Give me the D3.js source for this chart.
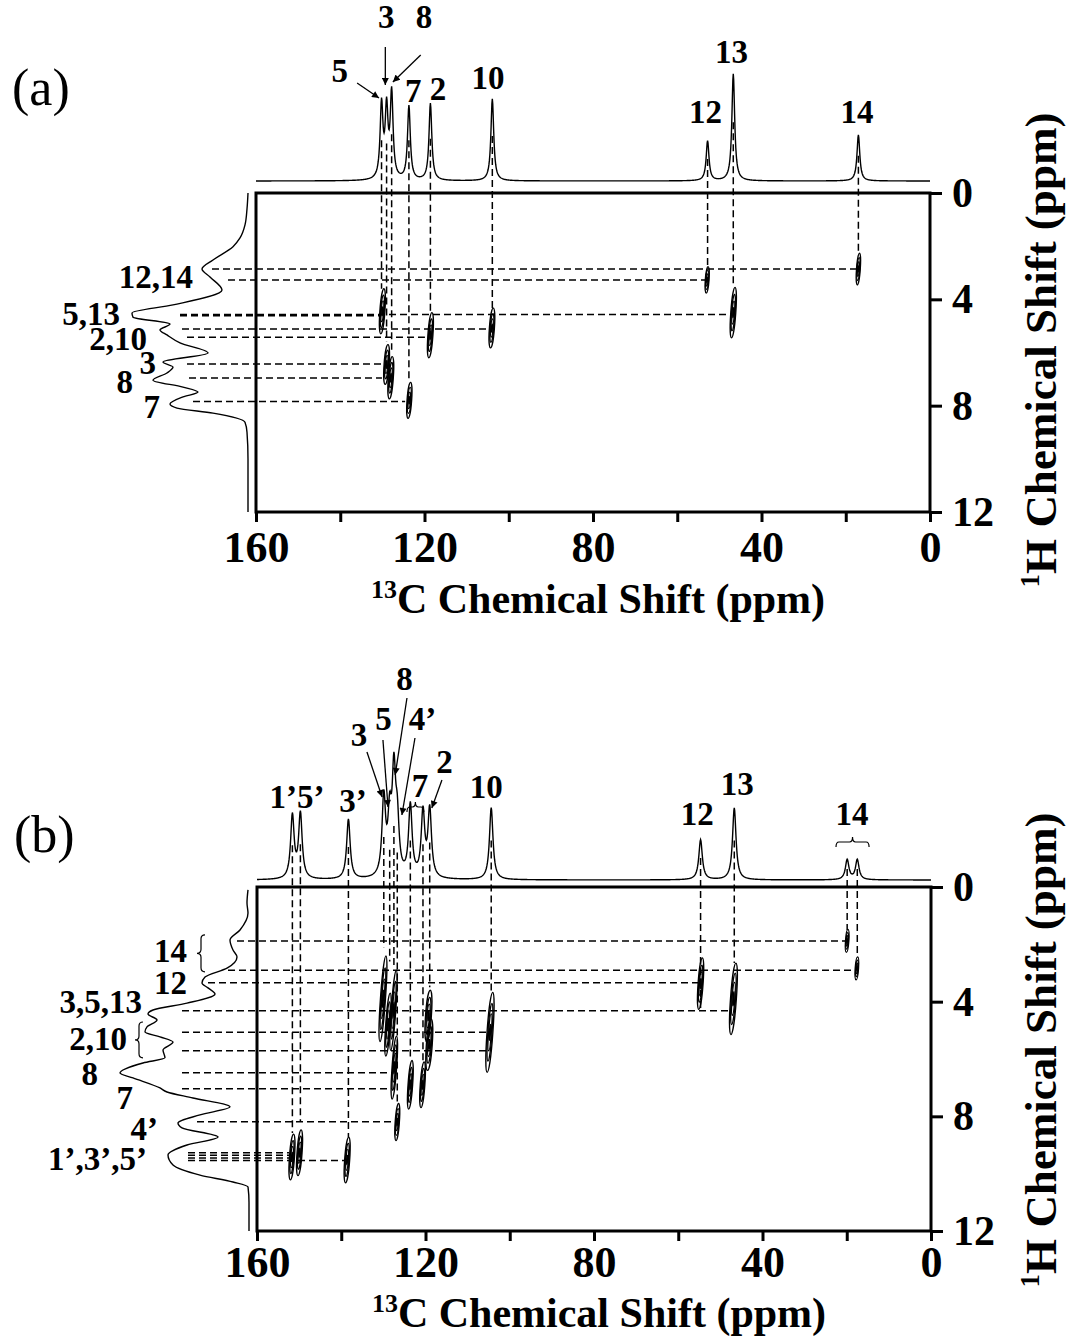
<!DOCTYPE html>
<html>
<head>
<meta charset="utf-8">
<script src="https://cdn.jsdelivr.net/npm/d3@7"></script>
<style>
body { margin: 0; background: #fff; }
text { font-family: "Liberation Serif", "Times New Roman", serif; font-weight: bold; fill: #000; }
</style>
</head>
<body>
<div id="chart"></div>
<script>
// axis ticks (ppm)
const cTicks = [160, 140, 120, 100, 80, 60, 40, 20, 0]
const cTickLabels = [160, 120, 80, 40, 0]
const hTicks = [0, 4, 8, 12]

// ---------- panel (a) ----------
// 13C peaks: [ppm, height, 1H end of the dashed guide]
const aPeaks = [[130.2, 74, 3.6], [129.0, 68, 5.6], [127.8, 85, 5.9], [123.7, 74, 7.1], [118.6, 77, 4.5],
  [103.9, 82, 4.33], [52.8, 40, 2.8], [46.7, 107, 3.55], [17.0, 46, 2.25]]
// cross peaks: [13C, 1H, half width 13C, half height 1H]
const aCross = [[17.0, 2.86, 0.45, 0.6], [52.9, 3.27, 0.45, 0.5], [46.7, 4.5, 0.6, 0.95], [104.0, 5.08, 0.6, 0.75],
  [118.6, 5.35, 0.6, 0.85], [130.0, 4.45, 0.6, 0.85], [129.0, 6.45, 0.6, 0.75], [128.0, 6.95, 0.6, 0.8], [123.6, 7.8, 0.55, 0.68]]
// 1H projection trace: [1H ppm, intensity]
const aProj = [[0, 0], [0.6, 1], [1.2, 3], [1.69, 8], [2.02, 15], [2.52, 35], [2.86, 46], [3.16, 38], [3.65, 26],
  [4.21, 75], [4.51, 116], [4.67, 115], [4.93, 78], [5.15, 88], [5.34, 81], [5.64, 68], [6.02, 40], [6.36, 85],
  [6.55, 75], [6.77, 81], [7.04, 95], [7.30, 65], [7.49, 50], [7.67, 65], [7.94, 78], [8.09, 71], [8.28, 35],
  [8.62, 3], [9.0, 1], [10, 0], [11, 0], [12, 0]]
// horizontal guides: [1H, start intensity, 13C end]
const aHLines = [[2.86, 36, 17.5], [3.27, 20, 53.3], [4.57, 68, 47.2], [4.62, 68, 130.6], [5.12, 66, 104.9],
  [5.43, 61, 119.9], [6.43, 61, 130.1], [6.96, 59, 130.1], [7.84, 55, 124.6]]
const aTopLabels = [["5", 140.1, 99], ["3", 129.1, 153], ["8", 120.1, 153], ["7", 122.7, 79], ["2", 116.8, 81],
  ["10", 104.9, 92], ["12", 53.3, 58], ["13", 47.1, 118], ["14", 17.3, 58]]
const aArrows = [[129.3, 134, 129.3, 96], [120.9, 126, 127.5, 99], [136.0, 98, 130.8, 83]]
const aSideLabels = [["12,14", 55, 3.57], ["5,13", 128, 4.97], ["2,10", 101, 5.91], ["3", 92, 6.8], ["8", 115, 7.52], ["7", 88, 8.46]]

// ---------- panel (b) ----------
const bPeaks = [[151.6, 63, 8.58], [149.7, 65, 8.19], [138.3, 60, 8.72], [129.9, 78, 2.1], [128.5, 55, 2.6],
  [127.5, 98, 2.8], [126.7, 50, 7.5], [123.6, 72, 6.0], [120.6, 65, 6.05], [119.0, 68, 3.5], [104.4, 72, 3.7],
  [54.7, 40, 4.32], [46.7, 72, 2.65], [19.9, 20, 1.5], [17.5, 20, 2.44]]
const bCross = [[151.7, 9.42, 0.6, 0.8], [149.9, 9.27, 0.6, 0.8], [138.6, 9.52, 0.6, 0.8],
  [130.1, 3.9, 0.6, 1.5], [128.9, 4.8, 0.55, 1.1], [127.6, 4.3, 0.55, 1.4], [127.4, 6.3, 0.55, 1.1],
  [126.7, 8.2, 0.5, 0.65], [123.6, 6.9, 0.55, 0.85], [120.7, 6.9, 0.55, 0.8],
  [119.3, 4.5, 0.7, 0.9], [119.1, 5.5, 0.7, 0.9], [104.7, 5.07, 0.7, 1.4],
  [54.7, 3.37, 0.6, 0.9], [46.9, 3.9, 0.7, 1.25], [19.9, 1.88, 0.4, 0.4], [17.6, 2.84, 0.4, 0.4]]
const bProj = [[0.1, 1], [0.56, 2], [0.91, 1], [1.5, 9], [1.85, 19], [2.2, 16], [2.44, 12], [2.83, 22], [3.14, 44],
  [3.35, 47], [3.52, 41], [3.73, 34], [4.05, 62], [4.29, 96], [4.43, 101], [4.64, 92], [4.88, 102], [5.06, 104],
  [5.23, 89], [5.41, 76], [5.69, 86], [5.96, 84], [6.14, 106], [6.49, 129], [6.66, 116], [7.01, 89], [7.15, 82],
  [7.36, 56], [7.67, 19], [7.95, 49], [8.23, 71], [8.4, 67], [8.72, 31], [9.0, 62], [9.35, 81], [9.7, 76],
  [10.05, 49], [10.29, 16], [10.46, 1], [11, 0], [12, 0]]
const bHLines = [[1.88, 12, 20.3], [2.90, 21, 18.0], [3.34, 41, 55.3], [4.32, 67, 47.3], [5.07, 67, 105.3],
  [5.71, 67, 105.3], [6.48, 67, 128.0], [7.04, 67, 128.0], [8.19, 52, 127.2], [9.27, 61, 152.4],
  [9.36, 61, 152.4], [9.45, 61, 152.4], [9.54, 61, 139.1]]
const bTopLabels = [["1’5’", 150.5, 72], ["3’", 137.2, 68], ["3", 135.8, 134], ["5", 130.0, 150], ["8", 125.0, 190],
  ["4’", 120.7, 150], ["7", 121.3, 83], ["2", 115.5, 107], ["10", 105.6, 82], ["12", 55.5, 55], ["13", 46.0, 85], ["14", 18.75, 55]]
const bArrows = [[133.9, 128, 130.3, 83], [130.1, 140, 128.9, 73], [124.4, 182, 127.2, 105], [122.5, 142, 125.6, 65], [116.1, 100, 118.5, 72]]
const bSideLabels = [["14", 62, 2.62], ["12", 62, 3.72], ["3,5,13", 107, 4.39], ["2,10", 122, 5.69], ["8", 151, 6.91],
  ["7", 116, 7.74], ["4’", 91, 8.82], ["1’,3’,5’", 102, 9.87]]
const bTopBraces = [[22.55, 14.7, 38], [124.4, 120.4, 73]]
const bSideBraces = [[48, 1.67, 2.96], [110, 4.71, 5.96]]

const svg = d3.select("#chart").append("svg")
  .attr("width", 1067)
  .attr("height", 1342)

svg.append("defs").append("marker")
  .attr("id", "arrow")
  .attr("viewBox", "0 0 10 10")
  .attr("refX", 10).attr("refY", 5)
  .attr("markerWidth", 9).attr("markerHeight", 7)
  .attr("markerUnits", "userSpaceOnUse")
  .attr("orient", "auto")
  .append("path").attr("d", "M0,0 L10,5 L0,10 z").attr("fill", "#000")

function panel(p) {
  const g = svg.append("g")

  const x = d3.scaleLinear().domain([160, 0]).range([p.left, p.right])
  const y = d3.scaleLinear().domain([0, 12]).range([p.top, p.bottom])
  const sI = d3.scaleLinear().domain([0, 100]).range([p.specBase, p.specBase - 100])
  const pI = d3.scaleLinear().domain([0, 100]).range([p.projBase, p.projBase - 100])

  // top 13C trace, lorentzian lines at the picked peaks
  const hw = p.fwhm / 2
  const spec = d3.range(160, -0.001, -0.1)
    .map(c => [c, d3.sum(p.peaks, pk => pk[1] / (1 + ((c - pk[0]) / hw) ** 2))])
  g.append("path").datum(spec)
    .attr("fill", "none").attr("stroke", "#000").attr("stroke-width", 1.4)
    .attr("d", d3.line().x(d => x(d[0])).y(d => sI(d[1])))

  // left 1H projection
  g.append("path").datum(p.proj)
    .attr("fill", "none").attr("stroke", "#000").attr("stroke-width", 1.4)
    .attr("d", d3.line().x(d => pI(d[1])).y(d => y(d[0])).curve(d3.curveMonotoneY))

  // dashed guides
  const dash = g.append("g").attr("stroke", "#000").attr("stroke-width", 1.5).attr("stroke-dasharray", "7,4")
  dash.selectAll(".v").data(p.peaks).join("line")
    .attr("x1", d => x(d[0])).attr("x2", d => x(d[0]))
    .attr("y1", d => sI(d[1] * 0.55)).attr("y2", d => y(d[2]))
  dash.selectAll(".h").data(p.hLines).join("line")
    .attr("x1", d => pI(d[1])).attr("x2", d => x(d[2]))
    .attr("y1", d => y(d[0])).attr("y2", d => y(d[0]))

  // cross peak contours
  const levels = [1, 0.72, 0.46, 0.2]
  p.cross.forEach(d => {
    const cx = x(d[0]), cy = y(d[1])
    const rx = Math.abs(x(d[0] + d[2]) - cx), ry = y(d[1] + d[3]) - cy
    g.selectAll(null).data(levels).join("ellipse")
      .attr("cx", cx).attr("cy", cy)
      .attr("rx", k => rx * k).attr("ry", k => ry * k)
      .attr("transform", `rotate(4,${cx},${cy})`)
      .attr("fill", "none").attr("stroke", "#000").attr("stroke-width", 1.3)
  })

  // frame
  g.append("rect")
    .attr("x", p.left).attr("y", p.top)
    .attr("width", p.right - p.left).attr("height", p.bottom - p.top)
    .attr("fill", "none").attr("stroke", "#000").attr("stroke-width", 3)

  g.append("g")
    .attr("transform", `translate(0,${p.bottom})`)
    .call(d3.axisBottom(x).tickValues(cTicks).tickSize(10).tickPadding(p.tickPad)
      .tickFormat(d => cTickLabels.includes(d) ? d : ""))
    .attr("font-size", 44).attr("font-family", null)
    .call(a => a.select(".domain").remove())
    .call(a => a.selectAll("line").attr("stroke-width", 3))

  g.append("g")
    .attr("transform", `translate(${p.right},0)`)
    .call(d3.axisRight(y).tickValues(hTicks).tickSize(12).tickPadding(10))
    .attr("font-size", 42).attr("font-family", null)
    .call(a => a.select(".domain").remove())
    .call(a => a.selectAll("line").attr("stroke-width", 3))

  // axis titles
  const bt = g.append("text")
    .attr("x", (p.left + p.right) / 2 + 5).attr("y", p.bottom + p.titleGap)
    .attr("text-anchor", "middle").attr("font-size", 42)
  bt.append("tspan").attr("font-size", 26).attr("dy", -15).text("13")
  bt.append("tspan").attr("dy", 15).text("C Chemical Shift (ppm)")

  const rt = g.append("text")
    .attr("transform", `translate(1056,${p.rightMid}) rotate(-90)`)
    .attr("text-anchor", "middle").attr("font-size", 45)
  rt.append("tspan").attr("font-size", 27).attr("dy", -17).text("1")
  rt.append("tspan").attr("dy", 17).text("H Chemical Shift (ppm)")

  // peak labels
  g.selectAll(".tl").data(p.topLabels).join("text")
    .attr("x", d => x(d[1])).attr("y", d => sI(d[2]))
    .attr("text-anchor", "middle").attr("font-size", 33)
    .text(d => d[0])
  g.selectAll(".ar").data(p.arrows).join("line")
    .attr("x1", d => x(d[0])).attr("y1", d => sI(d[1]))
    .attr("x2", d => x(d[2])).attr("y2", d => sI(d[3]))
    .attr("stroke", "#000").attr("stroke-width", 1.3)
    .attr("marker-end", "url(#arrow)")
  g.selectAll(".sl").data(p.sideLabels).join("text")
    .attr("x", d => pI(d[1])).attr("y", d => y(d[2]))
    .attr("text-anchor", "end").attr("font-size", 33)
    .text(d => d[0])

  // braces
  g.selectAll(".tb").data(p.topBraces || []).join("path")
    .attr("fill", "none").attr("stroke", "#000").attr("stroke-width", 1.2)
    .attr("d", d => {
      const x1 = x(d[0]), x2 = x(d[1]), xm = (x1 + x2) / 2, yy = sI(d[2]), h = 5, r = 3
      return `M${x1},${yy + h} Q${x1},${yy} ${x1 + r},${yy} L${xm - r},${yy} Q${xm},${yy} ${xm},${yy - h}` +
        ` Q${xm},${yy} ${xm + r},${yy} L${x2 - r},${yy} Q${x2},${yy} ${x2},${yy + h}`
    })
  g.selectAll(".sb").data(p.sideBraces || []).join("path")
    .attr("fill", "none").attr("stroke", "#000").attr("stroke-width", 1.2)
    .attr("d", d => {
      const xx = pI(d[0]), y1 = y(d[1]), y2 = y(d[2]), ym = (y1 + y2) / 2, h = 4, r = 4
      return `M${xx + h},${y1} Q${xx},${y1} ${xx},${y1 + r} L${xx},${ym - r} Q${xx},${ym} ${xx - h},${ym}` +
        ` Q${xx},${ym} ${xx},${ym + r} L${xx},${y2 - r} Q${xx},${y2} ${xx + h},${y2}`
    })

  svg.append("text")
    .attr("x", p.tagX).attr("y", p.tagY)
    .attr("font-size", 52).style("font-weight", "normal")
    .text(p.tag)
}

panel({
  tag: "(a)", tagX: 12, tagY: 105,
  left: 256, right: 930, top: 193, bottom: 512, specBase: 181, projBase: 248, fwhm: 0.8,
  tickPad: 9, titleGap: 101, rightMid: 350,
  peaks: aPeaks, cross: aCross, proj: aProj, hLines: aHLines,
  topLabels: aTopLabels, arrows: aArrows, sideLabels: aSideLabels
})

panel({
  tag: "(b)", tagX: 14, tagY: 852,
  left: 257, right: 931, top: 887, bottom: 1231, specBase: 880, projBase: 249, fwhm: 1.0,
  tickPad: 5, titleGap: 96, rightMid: 1050,
  peaks: bPeaks, cross: bCross, proj: bProj, hLines: bHLines,
  topLabels: bTopLabels, arrows: bArrows, sideLabels: bSideLabels,
  topBraces: bTopBraces, sideBraces: bSideBraces
})
</script>
</body>
</html>
